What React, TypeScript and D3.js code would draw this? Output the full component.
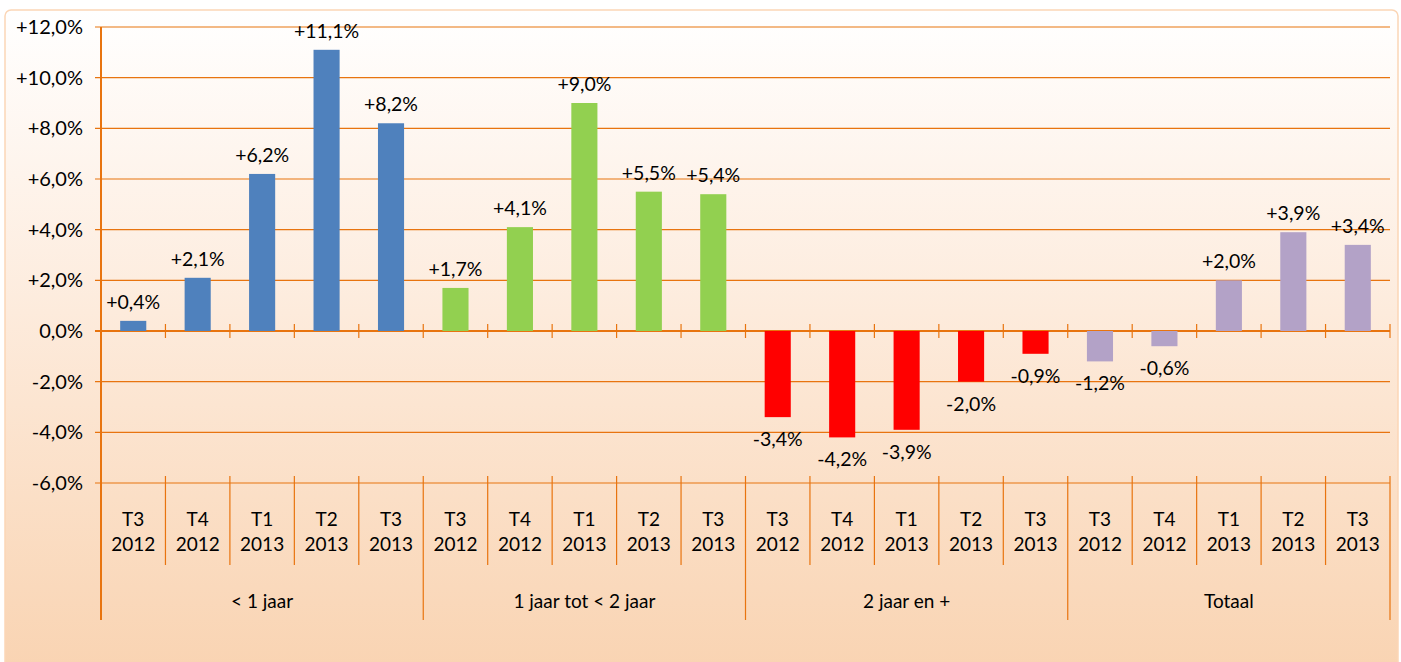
import React from "react";
import * as d3 from "d3";

const groups = ["< 1 jaar", "1 jaar tot < 2 jaar", "2 jaar en +", "Totaal"];
const periods = ["T3\n2012", "T4\n2012", "T1\n2013", "T2\n2013", "T3\n2013"];
const lt1Values = [0.4, 2.1, 6.2, 11.1, 8.2];
const oneToTwoValues = [1.7, 4.1, 9.0, 5.5, 5.4];
const twoPlusValues = [-3.4, -4.2, -3.9, -2.0, -0.9];
const totalValues = [-1.2, -0.6, 2.0, 3.9, 3.4];
const groupColors = ["#4f81bd", "#92d050", "#ff0000", "#b3a2c7"];
const yTicks = [12, 10, 8, 6, 4, 2, 0, -2, -4, -6];

const W = 1401;
const H = 662;
const FONT = "Lato, 'Open Sans', sans-serif";
const ORANGE = "#e8740f";

const fmt = (v: number) => {
  const s = Math.abs(v).toFixed(1).replace(".", ",");
  if (v > 0) return "+" + s + "%";
  if (v < 0) return "-" + s + "%";
  return s + "%";
};

export default function App() {
  const seriesValues = [lt1Values, oneToTwoValues, twoPlusValues, totalValues];
  const items = seriesValues.flatMap((vals, gi) =>
    vals.map((v, pi) => ({ key: `${gi}-${pi}`, gi, pi, v }))
  );
  const x = d3.scaleBand<string>().domain(items.map((d) => d.key)).range([101, 1390]).padding(0);
  const y = d3.scaleLinear().domain([-6, 12]).range([483, 27]);
  const bw = x.bandwidth();
  const barW = bw * 0.405;
  const x0 = 101;
  const x1 = 1390;

  return (
    <svg width={W} height={H} style={{ position: "absolute", left: 0, top: 0 }} fontFamily={FONT}>
      <defs>
        <linearGradient id="bg" x1="0" y1="0" x2="0" y2="1">
          <stop offset="0" stopColor="#ffffff" />
          <stop offset="0.45" stopColor="#fdebdc" />
          <stop offset="1" stopColor="#f9d3b1" />
        </linearGradient>
      </defs>
      <rect x={5} y={10} width={1393} height={670} rx={6} fill="url(#bg)" stroke="#fbd6b6" strokeWidth={1.5} />

      {/* gridlines */}
      {yTicks.map((t) => (
        <line key={t} x1={x0 - 6} x2={x1} y1={y(t)} y2={y(t)} stroke={ORANGE} strokeWidth={t === 0 ? 2.2 : 1.2} />
      ))}
      {/* y axis */}
      <line x1={x0} x2={x0} y1={y(12)} y2={620} stroke={ORANGE} strokeWidth={2} />
      {yTicks.map((t) => (
        <text key={"l" + t} x={83} y={y(t)} dy="0.35em" textAnchor="end" fontSize={20} fill="#000">
          {fmt(t)}
        </text>
      ))}

      {/* ticks on zero line */}
      {items.map((d, i) => (
        <line key={"zt" + i} x1={x(d.key)! + bw} x2={x(d.key)! + bw} y1={y(0) - 7} y2={y(0) + 7} stroke={ORANGE} strokeWidth={1.2} />
      ))}

      {/* bottom category dividers */}
      {items.map((d, i) => {
        const xx = x(d.key)! + bw;
        const isGroupEnd = d.pi === periods.length - 1;
        return (
          <line key={"bt" + i} x1={xx} x2={xx} y1={476} y2={isGroupEnd ? 620 : 565} stroke={ORANGE} strokeWidth={1.2} />
        );
      })}

      {/* bars */}
      {items.map((d) => {
        const cx = x(d.key)! + bw / 2;
        const top = Math.min(y(d.v), y(0));
        const h = Math.abs(y(d.v) - y(0));
        return <rect key={"b" + d.key} x={cx - barW / 2} y={top} width={barW} height={h} fill={groupColors[d.gi]} />;
      })}

      {/* data labels */}
      {items.map((d) => {
        const cx = x(d.key)! + bw / 2;
        const ly = d.v >= 0 ? y(d.v) - 12 : y(d.v) + 29;
        return (
          <text key={"dl" + d.key} x={cx} y={ly} textAnchor="middle" fontSize={19.5} fill="#000">
            {fmt(d.v)}
          </text>
        );
      })}

      {/* category labels */}
      {items.map((d) => {
        const cx = x(d.key)! + bw / 2;
        const [l1, l2] = periods[d.pi].split("\n");
        return (
          <g key={"cl" + d.key} fontSize={19} fill="#000" textAnchor="middle">
            <text x={cx} y={519} dy="0.35em">{l1}</text>
            <text x={cx} y={544} dy="0.35em">{l2}</text>
          </g>
        );
      })}

      {/* group labels */}
      {groups.map((g, gi) => {
        const start = x(`${gi}-0`)!;
        const end = x(`${gi}-${periods.length - 1}`)! + bw;
        return (
          <text key={"g" + gi} x={(start + end) / 2} y={601} dy="0.35em" textAnchor="middle" fontSize={19} fill="#000">
            {g}
          </text>
        );
      })}
    </svg>
  );
}
